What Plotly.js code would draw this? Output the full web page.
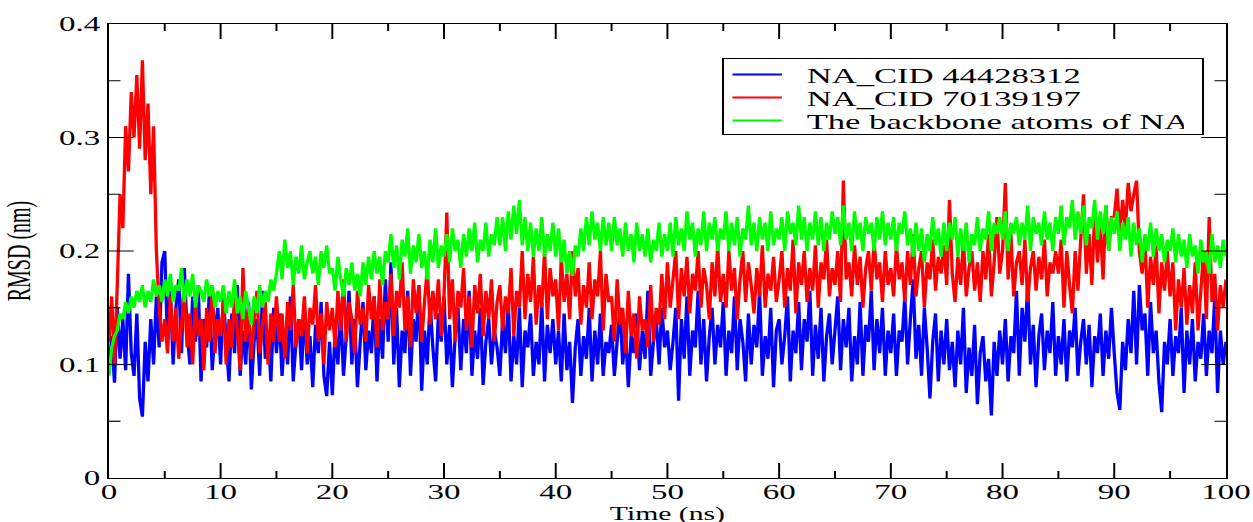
<!DOCTYPE html>
<html>
<head>
<meta charset="utf-8">
<script src="https://cdn.plot.ly/plotly-3.0.1.min.js"></script>
<style>
  html, body { margin: 0; padding: 0; background: #fff; overflow: hidden; }
  #wrap { position: absolute; left: 0; top: 0; width: 1253px; height: 522px; overflow: hidden; }
  #chart { position: absolute; left: 0; top: 0; width: 759.4px; height: 522px;
           transform: scaleX(1.65); transform-origin: 0 0; }
</style>
</head>
<body>
<div id="wrap"><div id="chart"></div></div>
<script>
// Time axis: samples every 0.25 ns from 0 to 100 ns
const TIME_START = 0;
const TIME_STEP = 0.25;
const xTicks = [0, 10, 20, 30, 40, 50, 60, 70, 80, 90, 100];
const xMinorTicks = [5, 15, 25, 35, 45, 55, 65, 75, 85, 95];
const yTicks = [0, 0.1, 0.2, 0.3, 0.4];
const yMinorTicks = [0.05, 0.15, 0.25, 0.35];
const seriesNames = ["NA_CID 44428312", "NA_CID 70139197", "The backbone atoms of NA"];

// RMSD (nm) – NA_CID 44428312 (blue)
const rmsdCid44428312 = [
  0.092,0.125,0.084,0.15,0.105,0.14,0.095,0.18,0.11,0.09,0.145,0.07,0.054,0.12,0.085,0.14,0.1,0.16,0.115,0.19,
  0.2,0.12,0.165,0.1,0.15,0.175,0.11,0.185,0.13,0.1,0.16,0.12,0.17,0.085,0.14,0.115,0.165,0.095,0.13,0.15,
  0.1,0.16,0.12,0.085,0.145,0.11,0.17,0.09,0.13,0.1,0.155,0.078,0.12,0.14,0.09,0.165,0.105,0.13,0.085,0.15,
  0.11,0.145,0.09,0.13,0.1,0.16,0.085,0.12,0.14,0.095,0.15,0.1,0.125,0.08,0.135,0.11,0.155,0.09,0.072,0.12,
  0.073,0.13,0.1,0.15,0.09,0.125,0.165,0.1,0.14,0.08,0.12,0.155,0.095,0.13,0.11,0.16,0.085,0.14,0.105,0.175,
  0.12,0.19,0.1,0.15,0.08,0.13,0.11,0.165,0.09,0.14,0.12,0.17,0.077,0.13,0.1,0.155,0.115,0.085,0.145,0.12,
  0.16,0.1,0.135,0.08,0.125,0.15,0.095,0.14,0.11,0.165,0.09,0.13,0.105,0.15,0.082,0.12,0.14,0.1,0.13,0.115,
  0.09,0.14,0.11,0.155,0.085,0.125,0.1,0.15,0.08,0.13,0.115,0.145,0.09,0.12,0.1,0.155,0.085,0.135,0.11,0.14,
  0.1,0.13,0.085,0.145,0.095,0.12,0.066,0.115,0.14,0.09,0.125,0.105,0.15,0.085,0.13,0.1,0.145,0.09,0.12,0.11,
  0.135,0.09,0.12,0.15,0.1,0.13,0.08,0.125,0.11,0.145,0.095,0.13,0.105,0.165,0.09,0.12,0.14,0.1,0.15,0.115,
  0.13,0.095,0.12,0.15,0.068,0.14,0.105,0.16,0.09,0.13,0.115,0.165,0.1,0.14,0.085,0.125,0.15,0.1,0.135,0.115,
  0.155,0.09,0.13,0.11,0.16,0.095,0.14,0.12,0.085,0.145,0.1,0.135,0.115,0.165,0.09,0.125,0.105,0.15,0.08,0.13,
  0.14,0.1,0.125,0.16,0.085,0.13,0.11,0.155,0.095,0.14,0.12,0.165,0.09,0.135,0.105,0.15,0.085,0.125,0.145,0.1,
  0.13,0.16,0.095,0.14,0.115,0.15,0.085,0.125,0.1,0.155,0.09,0.135,0.12,0.165,0.095,0.14,0.11,0.15,0.09,0.13,
  0.11,0.145,0.09,0.13,0.12,0.16,0.1,0.14,0.175,0.105,0.135,0.09,0.15,0.115,0.07,0.12,0.145,0.085,0.13,0.1,
  0.14,0.095,0.12,0.08,0.13,0.1,0.15,0.075,0.115,0.09,0.135,0.065,0.11,0.125,0.085,0.105,0.055,0.12,0.09,0.13,
  0.1,0.14,0.085,0.125,0.11,0.165,0.09,0.15,0.12,0.17,0.1,0.135,0.08,0.125,0.145,0.095,0.13,0.11,0.155,0.09,
  0.125,0.1,0.14,0.085,0.13,0.115,0.15,0.09,0.12,0.14,0.1,0.135,0.08,0.125,0.11,0.145,0.09,0.13,0.105,0.15,
  0.11,0.075,0.06,0.12,0.095,0.14,0.11,0.165,0.1,0.17,0.13,0.145,0.09,0.155,0.11,0.13,0.085,0.058,0.12,0.1,
  0.14,0.09,0.125,0.11,0.15,0.075,0.13,0.1,0.14,0.085,0.12,0.105,0.145,0.09,0.13,0.11,0.16,0.075,0.13,0.1,0.12
];

// RMSD (nm) – NA_CID 70139197 (red)
const rmsdCid70139197 = [
  0.12,0.16,0.1,0.17,0.25,0.22,0.31,0.27,0.34,0.3,0.355,0.29,0.368,0.28,0.33,0.25,0.31,0.2,0.15,0.12,
  0.14,0.11,0.16,0.12,0.15,0.105,0.135,0.165,0.115,0.145,0.1,0.155,0.125,0.14,0.095,0.15,0.12,0.17,0.11,0.14,
  0.125,0.155,0.1,0.14,0.115,0.16,0.13,0.095,0.185,0.12,0.15,0.105,0.14,0.165,0.11,0.135,0.155,0.1,0.145,0.12,
  0.16,0.12,0.145,0.105,0.155,0.13,0.17,0.115,0.14,0.125,0.16,0.11,0.15,0.135,0.17,0.12,0.145,0.1,0.155,0.13,
  0.15,0.115,0.165,0.13,0.175,0.12,0.155,0.14,0.11,0.165,0.135,0.15,0.12,0.17,0.14,0.16,0.115,0.175,0.13,0.155,
  0.14,0.18,0.125,0.165,0.15,0.19,0.13,0.16,0.115,0.175,0.145,0.17,0.12,0.155,0.185,0.135,0.165,0.14,0.175,0.125,
  0.16,0.234,0.14,0.175,0.12,0.165,0.15,0.185,0.13,0.16,0.115,0.17,0.145,0.18,0.125,0.165,0.14,0.175,0.12,0.155,
  0.17,0.13,0.16,0.145,0.185,0.125,0.165,0.15,0.2,0.14,0.18,0.155,0.195,0.135,0.17,0.15,0.2,0.14,0.185,0.16,
  0.175,0.13,0.195,0.155,0.18,0.14,0.2,0.16,0.185,0.135,0.17,0.15,0.19,0.14,0.175,0.16,0.2,0.13,0.18,0.155,
  0.16,0.12,0.175,0.135,0.15,0.11,0.165,0.125,0.145,0.105,0.16,0.13,0.14,0.115,0.17,0.12,0.15,0.135,0.18,0.14,
  0.19,0.15,0.175,0.2,0.14,0.185,0.16,0.195,0.145,0.18,0.165,0.2,0.15,0.185,0.17,0.14,0.19,0.16,0.205,0.155,
  0.18,0.15,0.2,0.165,0.185,0.14,0.175,0.2,0.155,0.19,0.17,0.145,0.185,0.16,0.205,0.15,0.18,0.165,0.195,0.155,
  0.175,0.2,0.15,0.185,0.165,0.21,0.145,0.19,0.17,0.2,0.155,0.185,0.165,0.205,0.15,0.19,0.175,0.21,0.16,0.185,
  0.17,0.2,0.155,0.262,0.175,0.19,0.16,0.205,0.17,0.195,0.15,0.185,0.2,0.165,0.21,0.175,0.19,0.155,0.2,0.17,
  0.185,0.16,0.205,0.175,0.19,0.155,0.2,0.17,0.215,0.16,0.185,0.2,0.15,0.19,0.175,0.21,0.165,0.195,0.18,0.205,
  0.17,0.245,0.18,0.155,0.195,0.17,0.21,0.16,0.185,0.2,0.165,0.19,0.155,0.2,0.175,0.215,0.16,0.19,0.23,0.18,
  0.2,0.26,0.175,0.215,0.16,0.19,0.2,0.17,0.21,0.155,0.185,0.2,0.165,0.195,0.175,0.21,0.16,0.19,0.18,0.2,
  0.18,0.21,0.15,0.2,0.17,0.145,0.2,0.165,0.21,0.25,0.18,0.215,0.17,0.235,0.19,0.225,0.175,0.24,0.2,0.23,
  0.23,0.255,0.215,0.245,0.22,0.26,0.235,0.25,0.262,0.2,0.18,0.21,0.15,0.195,0.17,0.205,0.145,0.19,0.165,0.2,
  0.16,0.19,0.13,0.175,0.15,0.185,0.135,0.17,0.145,0.19,0.13,0.165,0.2,0.14,0.23,0.155,0.18,0.13,0.17,0.15,0.175
];

// RMSD (nm) – backbone atoms of NA (green)
const rmsdBackbone = [
  0.09,0.115,0.125,0.13,0.145,0.14,0.155,0.145,0.16,0.15,0.165,0.155,0.17,0.15,0.165,0.155,0.175,0.16,0.17,0.155,
  0.175,0.16,0.18,0.155,0.17,0.165,0.185,0.155,0.175,0.16,0.18,0.15,0.17,0.165,0.155,0.175,0.16,0.17,0.15,0.165,
  0.155,0.17,0.145,0.165,0.15,0.175,0.145,0.16,0.14,0.165,0.15,0.135,0.16,0.145,0.17,0.15,0.165,0.155,0.175,0.165,
  0.18,0.2,0.175,0.21,0.185,0.2,0.17,0.195,0.18,0.205,0.175,0.19,0.2,0.18,0.195,0.17,0.2,0.185,0.205,0.18,
  0.185,0.165,0.195,0.175,0.16,0.185,0.17,0.19,0.165,0.18,0.16,0.19,0.17,0.195,0.175,0.2,0.18,0.195,0.17,0.2,
  0.19,0.215,0.185,0.205,0.175,0.21,0.195,0.22,0.18,0.205,0.19,0.215,0.185,0.2,0.175,0.21,0.19,0.22,0.185,0.205,
  0.195,0.215,0.19,0.22,0.2,0.21,0.185,0.215,0.195,0.22,0.2,0.225,0.19,0.21,0.2,0.225,0.195,0.215,0.205,0.23,
  0.205,0.23,0.2,0.235,0.21,0.24,0.215,0.245,0.205,0.23,0.2,0.225,0.195,0.22,0.2,0.23,0.195,0.215,0.2,0.225,
  0.195,0.22,0.19,0.21,0.18,0.2,0.178,0.205,0.195,0.22,0.2,0.23,0.205,0.235,0.21,0.225,0.2,0.23,0.205,0.225,
  0.2,0.23,0.205,0.22,0.195,0.225,0.2,0.215,0.19,0.225,0.2,0.215,0.195,0.22,0.19,0.21,0.2,0.225,0.195,0.215,
  0.2,0.225,0.195,0.23,0.205,0.22,0.2,0.235,0.21,0.225,0.195,0.22,0.205,0.235,0.2,0.225,0.21,0.23,0.2,0.22,
  0.21,0.235,0.2,0.225,0.205,0.23,0.195,0.22,0.21,0.24,0.205,0.225,0.2,0.23,0.21,0.225,0.2,0.235,0.205,0.22,
  0.21,0.23,0.2,0.235,0.215,0.225,0.205,0.24,0.21,0.23,0.2,0.225,0.21,0.235,0.205,0.23,0.2,0.225,0.21,0.235,
  0.215,0.23,0.205,0.24,0.21,0.225,0.2,0.235,0.21,0.225,0.2,0.23,0.215,0.225,0.2,0.23,0.21,0.235,0.205,0.225,
  0.21,0.23,0.2,0.225,0.215,0.235,0.205,0.22,0.195,0.225,0.2,0.22,0.19,0.215,0.2,0.23,0.205,0.22,0.195,0.225,
  0.2,0.225,0.21,0.23,0.195,0.22,0.2,0.225,0.19,0.215,0.205,0.23,0.2,0.22,0.21,0.235,0.2,0.225,0.215,0.23,
  0.21,0.235,0.2,0.225,0.215,0.23,0.205,0.225,0.21,0.24,0.2,0.23,0.215,0.225,0.205,0.235,0.21,0.225,0.2,0.23,
  0.215,0.24,0.205,0.23,0.22,0.245,0.21,0.235,0.215,0.24,0.205,0.23,0.22,0.245,0.21,0.235,0.215,0.24,0.2,0.23,
  0.215,0.235,0.2,0.225,0.21,0.23,0.195,0.225,0.205,0.22,0.19,0.215,0.2,0.225,0.195,0.22,0.2,0.215,0.19,0.21,
  0.2,0.22,0.19,0.215,0.195,0.21,0.185,0.215,0.195,0.205,0.18,0.21,0.19,0.2,0.18,0.215,0.19,0.205,0.185,0.21,0.195
];

const seriesValues = [rmsdCid44428312, rmsdCid70139197, rmsdBackbone];
const seriesColors = ["#0000ff", "#ff0000", "#00ff00"];

const FONT = "Liberation Serif";

const traces = seriesValues.map((vals, i) => ({
  type: "scatter",
  mode: "lines",
  name: seriesNames[i],
  x0: TIME_START,
  dx: TIME_STEP,
  y: vals,
  line: { color: seriesColors[i], width: 2.0, simplify: false }
}));

// Inside tick marks on all four sides, placed at the tick values through the axes.
const MAJOR_LEN = 15, MINOR_LEN = 7;
const tickLine = { color: "#000", width: 1.2 };
const shapes = [];
function xTick(v, len) {
  shapes.push({ type: "line", layer: "above", xref: "x", yref: "paper", ysizemode: "pixel",
                yanchor: 0, x0: v, x1: v, y0: 0, y1: len, line: tickLine });
  shapes.push({ type: "line", layer: "above", xref: "x", yref: "paper", ysizemode: "pixel",
                yanchor: 1, x0: v, x1: v, y0: 0, y1: -len, line: tickLine });
}
function yTick(v, len) {
  shapes.push({ type: "line", layer: "above", xref: "paper", yref: "y", xsizemode: "pixel",
                xanchor: 0, y0: v, y1: v, x0: 0, x1: len, line: tickLine });
  shapes.push({ type: "line", layer: "above", xref: "paper", yref: "y", xsizemode: "pixel",
                xanchor: 1, y0: v, y1: v, x0: 0, x1: -len, line: tickLine });
}
xTicks.slice(1, -1).forEach(v => xTick(v, MAJOR_LEN));
xMinorTicks.forEach(v => xTick(v, MINOR_LEN));
yTicks.slice(1, -1).forEach(v => yTick(v, MAJOR_LEN));
yMinorTicks.forEach(v => yTick(v, MINOR_LEN));

const layout = {
  width: 759.4,
  height: 522,
  margin: { l: 65.5, r: 16.4, t: 24, b: 44 },
  showlegend: true,
  shapes: shapes,
  legend: {
    x: 0.549, y: 0.925, xanchor: "left", yanchor: "top",
    bgcolor: "#fff", bordercolor: "#000", borderwidth: 1.2,
    font: { family: FONT, size: 21, color: "#000" }
  },
  xaxis: {
    range: [xTicks[0], xTicks[xTicks.length - 1]],
    tickmode: "array", tickvals: xTicks, ticktext: xTicks.map(String),
    ticks: "", ticklabelstandoff: -4,
    showline: true, linecolor: "#000", linewidth: 1.3, mirror: true,
    showgrid: false, zeroline: false,
    tickfont: { family: FONT, size: 20, color: "#000" },
    title: { text: "Time (ns)", font: { family: FONT, size: 18, color: "#000" } }
  },
  yaxis: {
    range: [yTicks[0], yTicks[yTicks.length - 1]],
    tickmode: "array", tickvals: yTicks, ticktext: yTicks.map(String),
    ticks: "",
    showline: true, linecolor: "#000", linewidth: 1.3, mirror: true,
    showgrid: false, zeroline: false,
    tickfont: { family: FONT, size: 20, color: "#000" },
    title: { text: "RMSD (nm)", font: { family: FONT, size: 20, color: "#000" } }
  }
};

Plotly.newPlot("chart", traces, layout, { staticPlot: true }).then(function (gd) {
  // Tighten the legend rows to the reference's compact spacing and widen the text gap.
  var items = gd.querySelectorAll(".legend .traces");
  var ROW = 23, SHIFT_Y = -5, TEXT_DX = 10;
  var firstY = null;
  items.forEach(function (el, i) {
    var tr = el.getAttribute("transform") || "";
    var m = /translate\(\s*([-\d.eE]+)[ ,]+([-\d.eE]+)\s*\)/.exec(tr);
    if (!m) return;
    var x = parseFloat(m[1]), y = parseFloat(m[2]);
    if (firstY === null) firstY = y;
    el.setAttribute("transform", "translate(" + x + "," + (firstY + SHIFT_Y + i * ROW) + ")");
    var t = el.querySelector(".legendtext");
    if (t) t.setAttribute("x", parseFloat(t.getAttribute("x") || 0) + TEXT_DX);
  });
  var bg = gd.querySelector(".legend .bg");
  if (bg && firstY !== null) {
    bg.setAttribute("height", 76);
    bg.setAttribute("width", parseFloat(bg.getAttribute("width")) + TEXT_DX + 1);
  }
  // Drop the x title slightly, as in the reference.
  var xt = gd.querySelector(".g-xtitle text");
  if (xt) xt.setAttribute("y", parseFloat(xt.getAttribute("y")) + 3);
});
</script>
</body>
</html>
